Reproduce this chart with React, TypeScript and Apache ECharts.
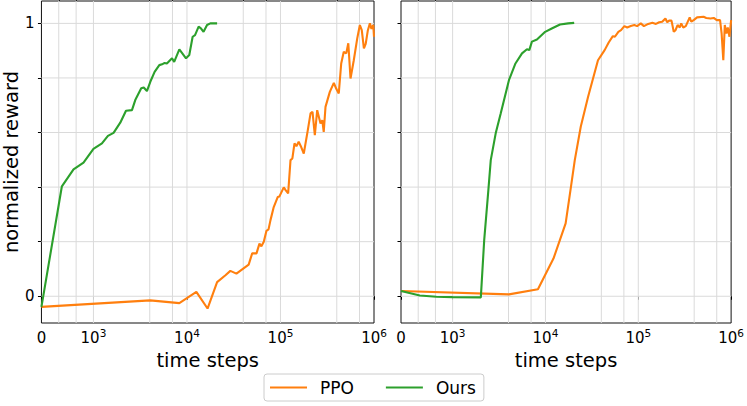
import React, { useEffect, useRef } from "react";
import * as echarts from "echarts";

// ---- axis definitions (symlog: linear below 1e3, log above) ----
const LIN_SPAN = 0.556; // width of the linear region 0..1e3, in decades
const symlog = (x: number): number =>
  x <= 1000 ? (LIN_SPAN * x) / 1000 : LIN_SPAN + Math.log10(x / 1000);

const X_MAX_REAL = 1e6;
const majorXTicks = [0, 1e3, 1e4, 1e5, 1e6];
const majorXLabels = ["0", "10|3", "10|4", "10|5", "10|6"];
const minorXTicks = [333, 667, 4e3, 7e3, 4e4, 7e4, 4e5, 7e5];
const yTicks = [0, 0.2, 0.4, 0.6, 0.8, 1];
const yLabelValues = [0, 1];
const Y_MIN = -0.098;
const Y_MAX = 1.082;

const seriesNames = ["PPO", "Ours"];
const seriesColors = ["#ff7f0e", "#2ca02c"];

// ---- left panel ----
const leftPPO: [number, number][] = [
  [0, -0.039], [4050, -0.015], [8290, -0.025], [12600, 0.016], [16600, -0.045],
  [21000, 0.052], [25800, 0.077], [29100, 0.093], [33800, 0.083], [45700, 0.116],
  [49800, 0.157], [55400, 0.157], [59600, 0.193], [62500, 0.183], [66300, 0.2],
  [70800, 0.24], [74500, 0.245], [78200, 0.279], [84700, 0.327], [93600, 0.364],
  [97500, 0.366], [108400, 0.399], [113500, 0.389], [120800, 0.377], [128000, 0.499],
  [134000, 0.505], [141200, 0.56], [148000, 0.55], [156600, 0.566], [165000, 0.55],
  [177500, 0.523], [196000, 0.609], [209600, 0.67], [220000, 0.676], [233000, 0.59],
  [247000, 0.682], [268000, 0.633], [280000, 0.645], [290000, 0.602], [303000, 0.694],
  [337000, 0.749], [372000, 0.782], [395000, 0.76], [420000, 0.743], [446000, 0.853],
  [475000, 0.896], [505000, 0.89], [531000, 0.927], [561000, 0.798], [608000, 0.865],
  [662000, 0.945], [706000, 0.994], [740000, 0.975], [780000, 0.908], [815000, 0.925],
  [860000, 0.975], [904000, 1.0], [940000, 0.98], [982000, 0.994], [1000000, 0.951],
];
const leftOurs: [number, number][] = [
  [0, -0.039], [393, 0.403], [617, 0.465], [809, 0.49], [1000, 0.54], [1233, 0.56],
  [1429, 0.588], [1641, 0.599], [1936, 0.636], [2228, 0.68], [2582, 0.682],
  [2800, 0.719], [3243, 0.762], [3450, 0.765], [3733, 0.752], [4054, 0.786],
  [4510, 0.822], [5062, 0.847], [5420, 0.85], [5768, 0.855], [6100, 0.853],
  [6920, 0.872], [7300, 0.859], [8290, 0.905], [8800, 0.893], [9770, 0.872],
  [10590, 0.884], [11500, 0.951], [12200, 0.957], [13330, 0.988], [14100, 0.982],
  [15050, 0.969], [16400, 0.994], [17780, 1.0], [21000, 1.0],
];

// ---- right panel ----
const rightPPO: [number, number][] = [
  [0, 0.019], [4040, 0.007], [8300, 0.026], [12200, 0.138], [16500, 0.267],
  [18600, 0.389], [20700, 0.499], [24000, 0.621], [28800, 0.731], [36800, 0.865],
  [43400, 0.902], [48000, 0.93], [53200, 0.953], [56000, 0.951], [61000, 0.969],
  [65200, 0.975], [70800, 0.99], [76000, 0.985], [83000, 0.99], [90700, 0.994],
  [97000, 0.99], [106400, 1.0], [115000, 0.99], [128000, 0.998], [142000, 1.002],
  [155000, 0.998], [168000, 1.004], [181000, 1.006], [196000, 1.018], [205000, 1.004],
  [215000, 1.01], [228000, 1.01], [241000, 0.969], [252000, 0.975], [265000, 0.994],
  [280000, 0.985], [290000, 1.0], [305000, 0.985], [325000, 0.99], [358000, 1.022],
  [372000, 1.006], [395000, 1.012], [430000, 1.022], [505000, 1.024], [540000, 1.02],
  [600000, 1.018], [650000, 1.02], [700000, 1.012], [760000, 1.012], [790000, 0.963],
  [824000, 0.865], [855000, 0.994], [890000, 0.963], [920000, 0.985], [960000, 0.951],
  [1000000, 1.012],
];
const rightOurs: [number, number][] = [
  [0, 0.019], [365, 0.003], [684, -0.002], [1000, -0.003], [2014, -0.004],
  [2188, 0.205], [2427, 0.389], [2576, 0.499], [2911, 0.597], [3296, 0.67],
  [4043, 0.792], [4753, 0.853], [5590, 0.89], [6322, 0.905], [6700, 0.902],
  [7150, 0.933], [8100, 0.941], [9930, 0.969], [11690, 0.981], [14350, 0.996],
  [17600, 1.0], [20400, 1.002],
];

const panels = [
  { ppo: leftPPO, ours: leftOurs },
  { ppo: rightPPO, ours: rightOurs },
];

const FONT = "DejaVu Sans";

function buildOption() {
  const X_MAX = symlog(X_MAX_REAL);
  const grids = [
    { left: 41, top: 1, width: 333, height: 322 },
    { left: 401, top: 1, width: 334, height: 322 },
  ].map((g) => ({ ...g, show: true, borderColor: "#111", borderWidth: 1, backgroundColor: "transparent" }));

  const formatX = (value: number) => {
    const i = majorXTicks.findIndex((t) => Math.abs(symlog(t) - value) < 1e-6);
    if (i < 0) return "";
    const lab = majorXLabels[i];
    if (lab.indexOf("|") < 0) return `{base|${lab}}`;
    const [b, s] = lab.split("|");
    return `{base|${b}}{sup|${s}}`;
  };

  const mainX = (gi: number) => ({
    type: "value",
    gridIndex: gi,
    min: 0,
    max: X_MAX,
    name: "time steps",
    nameLocation: "middle",
    nameGap: 23,
    nameTextStyle: { fontSize: 19.5, color: "#000", fontFamily: FONT },
    axisLine: { show: false },
    splitLine: { show: false },
    axisTick: {
      show: true,
      customValues: majorXTicks.map(symlog),
      length: 3.5,
      lineStyle: { color: "#000", width: 1 },
    },
    axisLabel: {
      customValues: majorXTicks.map(symlog),
      formatter: formatX,
      margin: 4.5,
      color: "#000",
      fontFamily: FONT,
      rich: {
        base: { fontSize: 15, lineHeight: 21, fontFamily: FONT, color: "#000" },
        sup: { fontSize: 10.5, lineHeight: 10, verticalAlign: "top", fontFamily: FONT, color: "#000" },
      },
    },
  });
  const minorX = (gi: number) => ({
    type: "value",
    gridIndex: gi,
    min: 0,
    max: X_MAX,
    axisLine: { show: false },
    splitLine: { show: false },
    axisLabel: { show: false },
    axisTick: {
      show: true,
      customValues: minorXTicks.map(symlog),
      length: 2,
      lineStyle: { color: "#000", width: 0.8 },
    },
  });
  const yAx = (gi: number) => ({
    type: "value",
    gridIndex: gi,
    min: Y_MIN,
    max: Y_MAX,
    name: gi === 0 ? "normalized reward" : "",
    nameLocation: "middle",
    nameGap: 20,
    nameTextStyle: { fontSize: 19.5, color: "#000", fontFamily: FONT },
    axisLine: { show: false },
    splitLine: { show: false },
    axisTick: {
      show: true,
      customValues: yTicks,
      length: 3.5,
      lineStyle: { color: "#000", width: 1 },
    },
    axisLabel: {
      show: gi === 0,
      customValues: yLabelValues,
      margin: 7,
      fontSize: 15,
      color: "#000",
      fontFamily: FONT,
    },
  });

  const series: any[] = [];
  const gridStyle = { color: "#dadada", width: 1 };
  panels.forEach((p, gi) => {
    [...majorXTicks, ...minorXTicks]
      .filter((t) => t > 0 && t < X_MAX_REAL)
      .forEach((t) => {
        series.push({
          type: "line",
          xAxisIndex: gi,
          yAxisIndex: gi,
          silent: true,
          symbol: "none",
          z: 1,
          lineStyle: gridStyle,
          data: [[symlog(t), Y_MIN], [symlog(t), Y_MAX]],
        });
      });
    yTicks.forEach((v) => {
      series.push({
        type: "line",
        xAxisIndex: gi,
        yAxisIndex: gi,
        silent: true,
        symbol: "none",
        z: 1,
        lineStyle: gridStyle,
        data: [[0, v], [X_MAX, v]],
      });
    });
    [p.ppo, p.ours].forEach((d, k) => {
      series.push({
        name: seriesNames[k],
        type: "line",
        xAxisIndex: gi,
        yAxisIndex: gi,
        symbol: "none",
        showSymbol: false,
        z: 3,
        color: seriesColors[k],
        lineStyle: { color: seriesColors[k], width: 2.1 },
        data: d.map(([x, y]) => [symlog(x), y]),
      });
    });
  });

  return {
    animation: false,
    backgroundColor: "#fff",
    textStyle: { fontFamily: FONT },
    grid: grids,
    xAxis: [mainX(0), mainX(1), minorX(0), minorX(1)],
    yAxis: [yAx(0), yAx(1)],
    legend: {
      data: seriesNames.map((n) => ({ name: n, icon: "rect" })),
      left: 264,
      top: 374,
      orient: "horizontal",
      itemWidth: 37,
      itemHeight: 2,
      itemGap: 32,
      padding: [5, 8, 5, 6],
      borderColor: "#cccccc",
      borderWidth: 1,
      borderRadius: 3,
      backgroundColor: "#fff",
      textStyle: { fontSize: 17, color: "#000", fontFamily: FONT, padding: [0, 0, 0, 8] },
    },
    series,
  };
}

export default function App() {
  const ref = useRef<HTMLDivElement>(null);
  useEffect(() => {
    if (!ref.current) return;
    const chart = echarts.init(ref.current, undefined, { renderer: "svg" });
    chart.setOption(buildOption() as any);
    return () => chart.dispose();
  }, []);
  return (
    <div
      ref={ref}
      style={{ position: "fixed", left: 0, top: 0, width: 747, height: 406, background: "#fff" }}
    />
  );
}
